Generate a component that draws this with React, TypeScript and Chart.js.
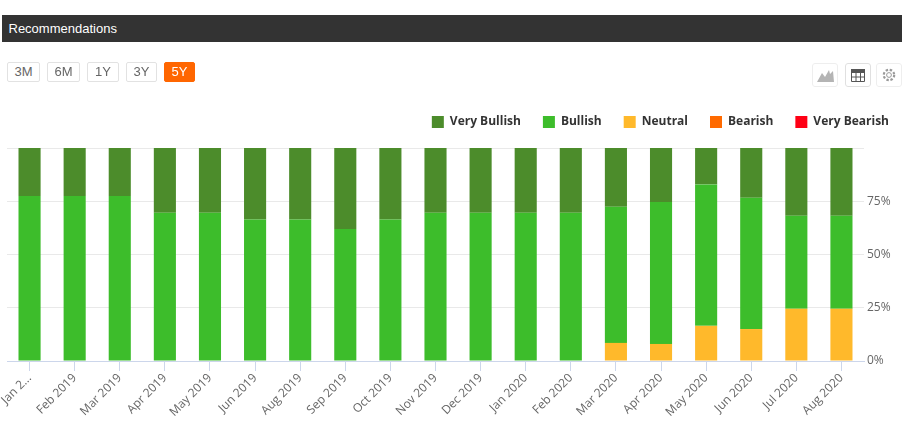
import React, { useEffect, useRef } from "react";
import { Chart, registerables } from "chart.js";

Chart.register(...registerables);

const categories = ["Jan 2...", "Feb 2019", "Mar 2019", "Apr 2019", "May 2019", "Jun 2019", "Aug 2019", "Sep 2019", "Oct 2019", "Nov 2019", "Dec 2019", "Jan 2020", "Feb 2020", "Mar 2020", "Apr 2020", "May 2020", "Jun 2020", "Jul 2020", "Aug 2020"];
const veryBullish = [22.5, 22.5, 22.5, 30.4, 30.4, 33.6, 33.6, 38, 33.6, 30.4, 30.4, 30.4, 30.4, 27.6, 25.3, 17.1, 23.4, 31.8, 31.8];
const bullish = [77.5, 77.5, 77.5, 69.6, 69.6, 66.4, 66.4, 62, 66.4, 69.6, 69.6, 69.6, 69.6, 63.9, 66.7, 66.4, 61.6, 43.7, 43.7];
const neutral = [0, 0, 0, 0, 0, 0, 0, 0, 0, 0, 0, 0, 0, 8.5, 8, 16.5, 15, 24.5, 24.5];
const bearish = [0, 0, 0, 0, 0, 0, 0, 0, 0, 0, 0, 0, 0, 0, 0, 0, 0, 0, 0];
const veryBearish = [0, 0, 0, 0, 0, 0, 0, 0, 0, 0, 0, 0, 0, 0, 0, 0, 0, 0, 0];
const yTicks = [0, 25, 50, 75, 100];
const ranges = ["3M", "6M", "1Y", "3Y", "5Y"];

const tickFont = { family: "'Open Sans'", size: 12 };

const legendShift = {
  id: "legendShift",
  afterLayout(chart: any) {
    if (chart.legend) {
      chart.legend.right += 7;
      chart.legend.top -= 10;
    }
  },
};

const buttonBoxes = [
  { left: 7, width: 33 },
  { left: 47, width: 33 },
  { left: 87, width: 32 },
  { left: 126, width: 31 },
  { left: 164, width: 31 },
];

const iconBox = (left: number, border: string): React.CSSProperties => ({
  position: "absolute",
  left,
  top: 63,
  width: 26,
  height: 24,
  border: `1px solid ${border}`,
  borderRadius: 3,
  boxSizing: "border-box",
  display: "flex",
  alignItems: "center",
  justifyContent: "center",
});

export default function App() {
  const ref = useRef<HTMLCanvasElement>(null);
  useEffect(() => {
    const chart = new Chart(ref.current as HTMLCanvasElement, {
      type: "bar",
      data: {
        labels: categories,
        datasets: [
          { label: "Very Bearish", data: veryBearish, backgroundColor: "#ff0015" },
          { label: "Bearish", data: bearish, backgroundColor: "#ff6a00" },
          { label: "Neutral", data: neutral, backgroundColor: "#ffb92b" },
          { label: "Bullish", data: bullish, backgroundColor: "#3dbd2b" },
          { label: "Very Bullish", data: veryBullish, backgroundColor: "#4c8c2b" },
        ],
      },
      options: {
        responsive: false,
        animation: false,
        layout: { padding: { left: 7, right: 0, top: 104, bottom: 0 } },
        datasets: { bar: { barPercentage: 1, categoryPercentage: 0.49 } },
        plugins: {
          tooltip: { enabled: false },
          legend: {
            position: "top",
            align: "end",
            reverse: true,
            labels: {
              boxWidth: 12,
              boxHeight: 12,
              padding: 22,
              color: "#333333",
              font: { family: "'Open Sans'", size: 12, weight: "bold" },
            },
          },
        },
        scales: {
          x: {
            stacked: true,
            afterFit(s: any) {
              s.height = 63;
              s.paddingLeft = 0;
              s.paddingRight = 0;
            },
            grid: { offset: false, drawOnChartArea: false, tickColor: "#ccd6eb", tickLength: 10 },
            border: { color: "#ccd6eb" },
            ticks: { autoSkip: false, minRotation: 45, maxRotation: 45, color: "#666666", font: tickFont, padding: 0 },
          },
          y: {
            stacked: true,
            position: "right",
            min: yTicks[0],
            max: yTicks[yTicks.length - 1],
            afterFit(s: any) {
              s.width = 40;
              s.paddingTop = 0;
              s.paddingBottom = 0;
            },
            afterBuildTicks(s: any) {
              s.ticks = yTicks.map((value) => ({ value }));
            },
            grid: { color: "#e9e9e9", drawTicks: false },
            border: { display: false },
            ticks: {
              color: "#666666",
              font: tickFont,
              padding: 3,
              callback: (v: any) => (v === 100 ? "" : `${v}%`),
            },
          },
        },
      } as any,
      plugins: [legendShift],
    });
    return () => chart.destroy();
  }, []);

  return (
    <div style={{ position: "absolute", left: 0, top: 0, width: 904, height: 424, overflow: "hidden", background: "#fff", fontFamily: "'Liberation Sans', Arial, sans-serif" }}>
      <canvas ref={ref} width={904} height={424} style={{ position: "absolute", left: 0, top: 0, display: "block" }} />
      <div style={{ position: "absolute", left: 2, top: 15, width: 900, height: 27, background: "#333333", color: "#fff", fontSize: 13, lineHeight: "27px", paddingLeft: 6.5, boxSizing: "border-box" }}>
        Recommendations
      </div>
      {ranges.map((r, i) => (
        <div
          key={r}
          style={{
            position: "absolute",
            left: buttonBoxes[i].left,
            top: 62,
            width: buttonBoxes[i].width,
            height: 20,
            boxSizing: "border-box",
            border: r === "5Y" ? "1px solid #ff6600" : "1px solid #e2e2e2",
            borderRadius: 2,
            background: r === "5Y" ? "#ff6600" : "#fff",
            color: r === "5Y" ? "#fff" : "#666",
            fontSize: 13,
            lineHeight: "18px",
            textAlign: "center",
          }}
        >
          {r}
        </div>
      ))}
      <div style={iconBox(812, "#eeeeee")}>
        <svg width="17" height="13" viewBox="0 0 17 13"><path d="M0 13 L5 4 L8 8 L12 1 L13 5 L16 2 L17 13 Z" fill="#b4b4b4" /></svg>
      </div>
      <div style={iconBox(845, "#e0e0e0")}>
        <svg width="14" height="13" viewBox="0 0 14 13">
          <rect x="0" y="0" width="14" height="4" fill="#555" />
          <path d="M0.5 4 V12.5 H13.5 V4 M0.5 8 H13.5 M5 4 V12.5 M9.5 4 V12.5" fill="none" stroke="#555" />
        </svg>
      </div>
      <div style={iconBox(876, "#eeeeee")}>
        <svg width="14" height="14" viewBox="0 0 14 14">
          <circle cx="7" cy="7" r="2.4" fill="none" stroke="#999" />
          <circle cx="7" cy="7" r="5.2" fill="none" stroke="#999" strokeWidth="2.2" strokeDasharray="2.4 1.7" />
        </svg>
      </div>
    </div>
  );
}
